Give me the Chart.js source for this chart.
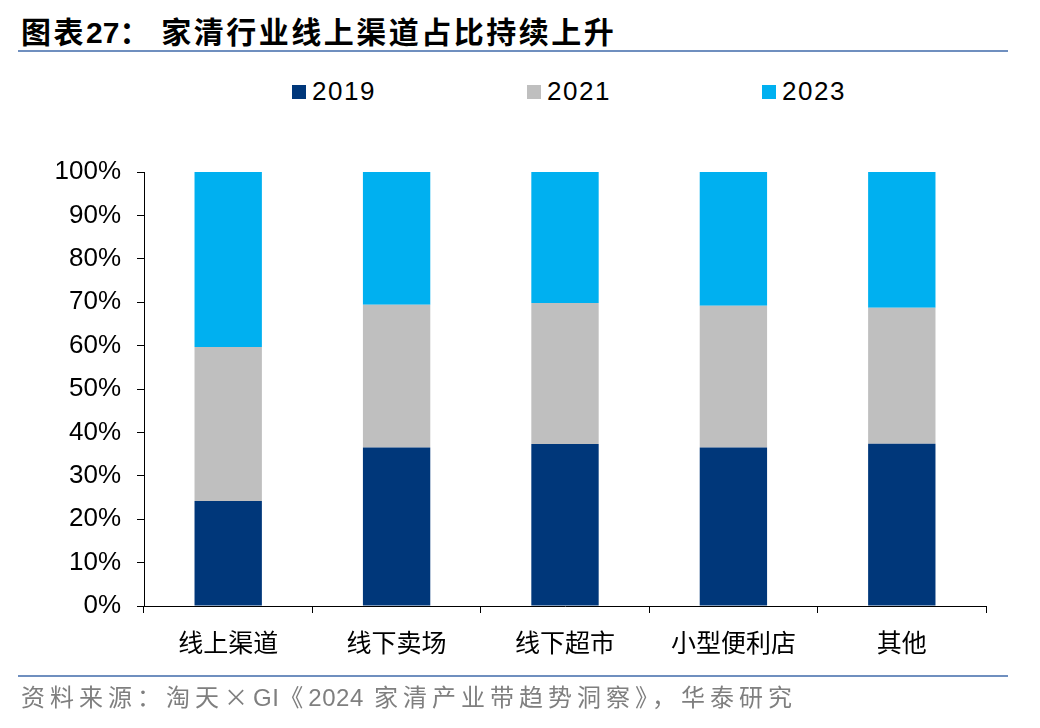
<!DOCTYPE html>
<html>
<head>
<meta charset="utf-8">
<script src="https://cdn.jsdelivr.net/npm/chart.js@4.4.0/dist/chart.umd.min.js"></script>
<style>
  body { margin: 0; background: #fff; }
  #wrap { position: relative; width: 1040px; height: 728px; overflow: hidden; }
  #chart { position: absolute; left: 0; top: 0; }
  .title { position: absolute; left: 21px; top: 10px; font-family: "Noto Sans CJK SC", sans-serif; font-weight: bold; font-size: 30px; letter-spacing: 2.5px; color: #000; white-space: nowrap; line-height: 40px; }
  .title b { font-family: "Liberation Sans", Arial, sans-serif; letter-spacing: 0; }
  .rule { position: absolute; left: 18px; width: 990px; height: 2px; background: #6F8FBF; }
  .source { position: absolute; left: 21px; top: 680px; font-family: "Noto Sans CJK SC", sans-serif; font-size: 24px; letter-spacing: 5px; color: #7F7F7F; white-space: nowrap; line-height: 32px; }
  .source span { font-family: "Liberation Sans", Arial, sans-serif; letter-spacing: 0.5px; }
  .legend { position: absolute; top: 76px; height: 30px; font-family: "Liberation Sans", Arial, sans-serif; font-size: 26px; letter-spacing: 1.5px; color: #000; line-height: 30px; white-space: nowrap; }
  .legend i { display: inline-block; width: 14px; height: 14px; margin-right: 6px; vertical-align: 1px; }
</style>
</head>
<body>
<div id="wrap">
  <div class="title">图表<b>27</b>： 家清行业线上渠道占比持续上升</div>
  <div class="rule" style="top:50px"></div>
  <div id="legend"></div>
  <canvas id="chart" width="1040" height="728"></canvas>
  <div class="rule" style="top:675px"></div>
  <div class="source">资料来源：淘天×<span>GI</span>《<span>2024</span> 家清产业带趋势洞察》，华泰研究</div>
</div>
<script>
// channels and share of each year (%)
var categories = ["线上渠道", "线下卖场", "线下超市", "小型便利店", "其他"];
var years = ["2019", "2021", "2023"];
var share2019 = [24.2, 36.5, 37.3, 36.5, 37.4];
var share2021 = [35.5, 32.9, 32.5, 32.7, 31.3];
var share2023 = [40.3, 30.6, 30.2, 30.8, 31.3];
var yTicks = [0, 10, 20, 30, 40, 50, 60, 70, 80, 90, 100];

var colors = ["#00377A", "#BFBFBF", "#00B0F0"];

// legend in html, placed like the original
var legendX = [292, 527, 762];
var legendBox = document.getElementById("legend");
years.forEach(function (y, i) {
  var d = document.createElement("div");
  d.className = "legend";
  d.style.left = legendX[i] + "px";
  d.innerHTML = '<i style="background:' + colors[i] + '"></i>' + y;
  legendBox.appendChild(d);
});

var ctx = document.getElementById("chart").getContext("2d");
new Chart(ctx, {
  type: "bar",
  data: {
    labels: categories,
    datasets: [
      { label: years[0], data: share2019, backgroundColor: colors[0] },
      { label: years[1], data: share2021, backgroundColor: colors[1] },
      { label: years[2], data: share2023, backgroundColor: colors[2] },
    ],
  },
  options: {
    responsive: false,
    animation: false,
    devicePixelRatio: 1,
    layout: {
      padding: { left: 0, right: 54, top: 172, bottom: 62 },
    },
    plugins: {
      legend: { display: false },
      tooltip: { enabled: false },
    },
    datasets: {
      bar: { barPercentage: 0.4, categoryPercentage: 1, borderWidth: 0 },
    },
    scales: {
      x: {
        stacked: true,
        grid: {
          drawOnChartArea: false,
          tickLength: 7,
          color: "#000",
        },
        border: { color: "#000", width: 1 },
        ticks: {
          padding: 14,
          color: "#000",
          font: { family: "'Noto Sans CJK SC'", size: 25 },
          maxRotation: 0,
        },
        afterFit: function (scale) { scale.height = 60; },
      },
      y: {
        stacked: true,
        min: 0,
        max: 100,
        afterBuildTicks: function (scale) {
          scale.ticks = yTicks.map(function (v) { return { value: v }; });
        },
        grid: {
          drawOnChartArea: false,
          tickLength: 7,
          color: "#000",
        },
        border: { color: "#000", width: 1 },
        ticks: {
          padding: 16,
          color: "#000",
          font: { family: "'Liberation Sans', Arial", size: 26 },
          callback: function (v) { return v + "%"; },
        },
        afterFit: function (scale) { scale.width = 144; },
      },
    },
  },
});
</script>
</body>
</html>
